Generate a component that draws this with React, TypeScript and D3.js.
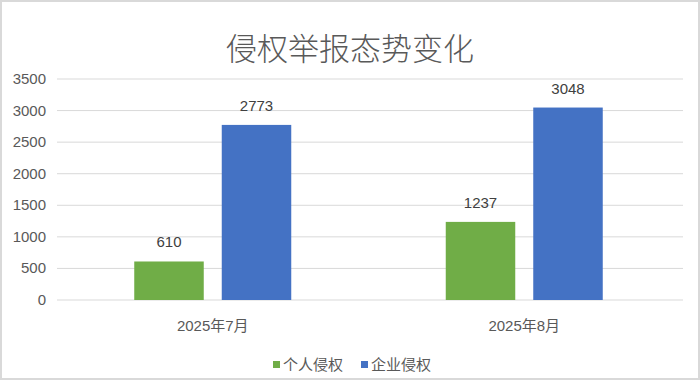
import React from "react";
import * as d3 from "d3";

const categories = ["2025年7月", "2025年8月"];
const seriesNames = ["个人侵权", "企业侵权"];
const personalValues = [610, 1237];
const enterpriseValues = [2773, 3048];
const yTicks = [0, 500, 1000, 1500, 2000, 2500, 3000, 3500];
const colors = ["#70AD47", "#4472C4"];
const title = "侵权举报态势变化";

const W = 700;
const H = 380;
const FONT = "'Liberation Sans', 'Noto Sans CJK SC', sans-serif";

export default function App() {
  const left = 57;
  const right = 680;
  const gridRight = 683;
  const top = 79;
  const bottom = 300;
  const x0 = d3.scaleBand<string>().domain(categories).range([left, right]).paddingInner(0).paddingOuter(0);
  const y = d3.scaleLinear().domain([0, 3500]).range([bottom, top]);
  const series = [personalValues, enterpriseValues];
  const barW = 69.5;
  const gap = 18;

  return (
    <svg width={W} height={H} style={{ position: "absolute", left: 0, top: 0, background: "#fff" }} fontFamily={FONT}>
      <rect x={1} y={1} width={W - 2} height={H - 2} fill="#fff" stroke="#d9d9d9" strokeWidth={2} />
      <text x={W / 2} y={60} textAnchor="middle" fontSize={31} fill="#595959" fontWeight={300} fontFamily="'Noto Sans CJK SC', sans-serif">
        {title}
      </text>
      {yTicks.map((t) => (
        <g key={t}>
          <line x1={left} x2={gridRight} y1={y(t)} y2={y(t)} stroke="#d9d9d9" strokeWidth={1} />
          <text x={46} y={y(t) + 5} textAnchor="end" fontSize={15} fill="#595959">
            {t}
          </text>
        </g>
      ))}
      {categories.map((c, i) => {
        const cx = (x0(c) as number) + x0.bandwidth() / 2;
        return (
          <g key={c}>
            {series.map((vals, s) => {
              const bx = s === 0 ? cx - gap / 2 - barW : cx + gap / 2;
              const v = vals[i];
              return (
                <g key={s}>
                  <rect x={bx} y={y(v)} width={barW} height={bottom - y(v)} fill={colors[s]} />
                  <text x={bx + barW / 2} y={y(v) - 14} textAnchor="middle" fontSize={15} fill="#404040">
                    {v}
                  </text>
                </g>
              );
            })}
            <text x={cx} y={331} textAnchor="middle" fontSize={15} fill="#595959">
              {c}
            </text>
          </g>
        );
      })}
      {seriesNames.map((n, s) => {
        const lx = s === 0 ? 273 : 361;
        return (
          <g key={n}>
            <rect x={lx} y={361} width={7} height={7} fill={colors[s]} />
            <text x={lx + 10} y={370} fontSize={15} fill="#595959">
              {n}
            </text>
          </g>
        );
      })}
    </svg>
  );
}
